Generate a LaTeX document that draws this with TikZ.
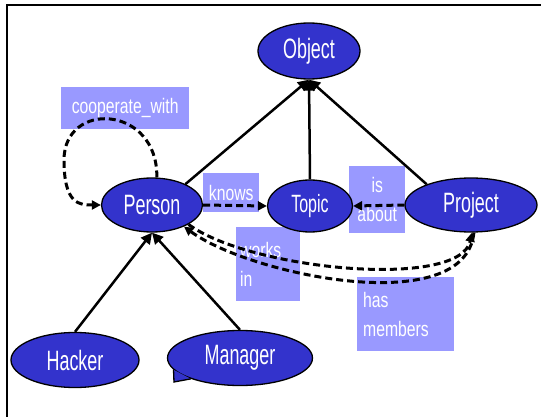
\documentclass[tikz,border=0pt]{standalone}
\usepackage{fontspec}
\usetikzlibrary{shapes.geometric,arrows.meta}
\newfontfamily\nodefont[FakeStretch=0.64]{Liberation Sans}
\newfontfamily\labfont[FakeStretch=0.75]{Liberation Sans}
\definecolor{nodeblue}{RGB}{51,51,204}
\definecolor{labelfill}{RGB}{153,153,255}
\tikzset{
  cls/.style={ellipse, draw=black, line width=1.3pt, fill=nodeblue, text=white, inner sep=0pt,
    font=\nodefont\fontsize{28}{28}\selectfont},
  lab/.style={fill=labelfill, text=white, inner sep=0pt, anchor=north west,
    font=\labfont\fontsize{21}{29}\selectfont},
  isa/.style={line width=2.5pt, -{Triangle[length=11pt,width=11pt]}},
  rel/.style={line width=3pt, dash pattern=on 7pt off 4pt, -{Triangle[length=9pt,width=9pt]}},
  frameline/.style={line width=1.5pt}
}
\begin{document}
\begin{tikzpicture}[x=1pt,y=1pt]
\useasboundingbox (0,0) rectangle (541,-417);
\draw[frameline] (541,-5) -- (7,-5) -- (7,-417);

% labels
\node[lab, minimum width=128pt, minimum height=42pt] (cooplab) at (61,-87) {cooperate\_with};
\node[lab, minimum width=56pt, minimum height=39pt] (knowslab) at (203,-173) {knows};
\node[lab, minimum width=56pt, minimum height=67pt, align=center] (aboutlab) at (349,-166) {is\\about};
\node[lab, text width=56pt, inner xsep=4pt, minimum height=74pt, align=left] (workslab) at (236,-227) {works\\in};
\node[lab, text width=85pt, inner xsep=6pt, minimum height=74pt, align=left] (memberslab) at (357,-277) {has\\members};

% classes
\node[cls, minimum width=102pt, minimum height=56pt] (object) at (309,-51) {Object};
\node[cls, minimum width=101pt, minimum height=54pt] (person) at (152,-205) {Person};
\node[cls, minimum width=85pt, minimum height=52pt, font=\nodefont\fontsize{25}{25}\selectfont] (topic) at (310,-206) {Topic};
\node[cls, minimum width=132pt, minimum height=54pt] (project) at (471,-205) {Project};
\node[cls, minimum width=128pt, minimum height=55pt] (hacker) at (75,-360) {Hacker};
\node[cls, minimum width=145pt, minimum height=55pt] (manager) at (240,-358) {Manager};
\fill[nodeblue] (manager.190) -- (174,-382) -- (manager.203);
\draw[line width=1.3pt] (manager.190) -- (174,-382) -- (manager.203);

% inheritance
\draw[isa] (person.32) -- (object.south);
\draw[isa] (topic.north) -- (object.south);
\draw[isa] (project.155) -- (object.south);
\draw[isa] (hacker.north) -- (person.south);
\draw[isa] (manager.north) -- (person.south);

% relations
\coordinate (coopbend) at (64,-160);
\draw[rel] (person.80) .. controls (158,-105) and (64,-100) .. (coopbend)
  .. controls (64,-205) and (80,-205) .. (person.west);
\draw[rel] (person.east) -- (topic.west);
\draw[rel] (project.west) -- (topic.east);
\draw[rel] (person.-28) .. controls (250,-270) and (460,-290) .. (project.-88);
\draw[rel] (project.-84) .. controls (465,-320) and (250,-275) .. (person.-34);
\end{tikzpicture}
\end{document}
